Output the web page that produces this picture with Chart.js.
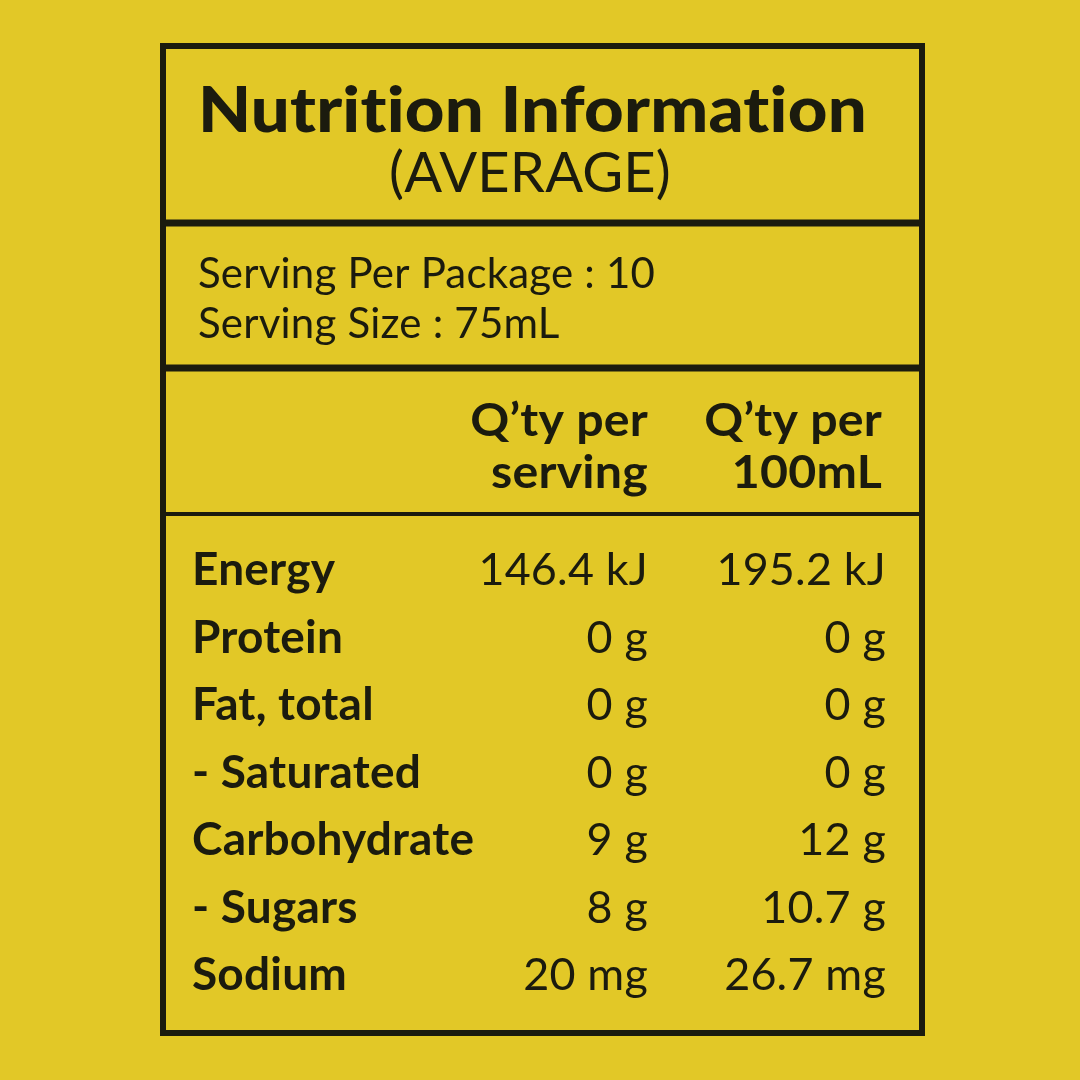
<!DOCTYPE html>
<html><head><meta charset="utf-8">
<script src="https://cdn.jsdelivr.net/npm/chart.js@4/dist/chart.umd.min.js"></script>
<style>html,body{margin:0;padding:0;background:#E2C827;}#c{display:block;}</style>
</head><body>
<div style="width:1080px;height:1080px"><canvas id="c" width="1080" height="1080"></canvas></div>
<script>
const title = "Nutrition Information";
const subtitle = "(AVERAGE)";
const servingLines = ["Serving Per Package : 10", "Serving Size : 75mL"];
const colHeaders = [["Q’ty per", "serving"], ["Q’ty per", "100mL"]];
const nutrients = ["Energy", "Protein", "Fat, total", "- Saturated", "Carbohydrate", "- Sugars", "Sodium"];
const perServing = ["146.4 kJ", "0 g", "0 g", "0 g", "9 g", "8 g", "20 mg"];
const per100 = ["195.2 kJ", "0 g", "0 g", "0 g", "12 g", "10.7 g", "26.7 mg"];

const INK = "#1b1b0e";
function txt(ctx, s, x, y, align, sx) {
  ctx.save();
  ctx.translate(x, y); ctx.scale(sx || 1, 1);
  ctx.textAlign = align; ctx.fillText(s, 0, 0);
  ctx.restore();
}
const tablePlugin = {
  id: 'table',
  afterDraw(chart) {
    const ctx = chart.ctx, xs = chart.scales.x, ys = chart.scales.y;
    const X = v => xs.getPixelForValue(v), Y = v => ys.getPixelForValue(v);
    ctx.save();
    ctx.strokeStyle = INK; ctx.fillStyle = INK;
    ctx.letterSpacing = "0.2px";
    ctx.lineWidth = 6;
    ctx.strokeRect(X(163), Y(46), X(922) - X(163), Y(1033) - Y(46));
    const hl = (y, w) => { ctx.lineWidth = w; ctx.beginPath(); ctx.moveTo(X(163), Y(y)); ctx.lineTo(X(922), Y(y)); ctx.stroke(); };
    hl(223, 7); hl(368, 7); hl(514, 4);
    ctx.textBaseline = 'alphabetic';
    ctx.font = "900 62px Lato";
    txt(ctx, title, X(198), Y(132), 'left', 1.11);
    ctx.font = "56px Lato";
    txt(ctx, subtitle, X(530), Y(192), 'center', 1.0);
    ctx.font = "42px Lato";
    servingLines.forEach((s, i) => txt(ctx, s, X(198), Y(288 + i * 50), 'left', 1.0));
    ctx.font = "bold 46px Lato";
    const cols = [648, 882];
    colHeaders.forEach((h, c) => h.forEach((t, i) => txt(ctx, t, X(cols[c]), Y(436 + i * 52), 'right', 1.05)));
    nutrients.forEach((n, i) => {
      const y = Y(585 + i * 67.5);
      ctx.font = "bold 46px Lato";
      txt(ctx, n, X(192), y, 'left', 1.0);
      ctx.font = "44px Lato";
      txt(ctx, perServing[i], X(648), y, 'right', 1.02);
      txt(ctx, per100[i], X(886), y, 'right', 1.02);
    });
    ctx.restore();
  }
};

new Chart(document.getElementById('c'), {
  type: 'scatter',
  data: { datasets: [{ data: nutrients.map((n, i) => ({ x: 192, y: 585 + i * 67.5 })), pointRadius: 0 }] },
  options: {
    responsive: false, animation: false,
    layout: { padding: 0 },
    plugins: { legend: { display: false }, tooltip: { enabled: false } },
    scales: {
      x: { type: 'linear', min: 0, max: 1080, display: false },
      y: { type: 'linear', min: 0, max: 1080, reverse: true, display: false }
    }
  },
  plugins: [tablePlugin]
});
</script>
</body></html>
